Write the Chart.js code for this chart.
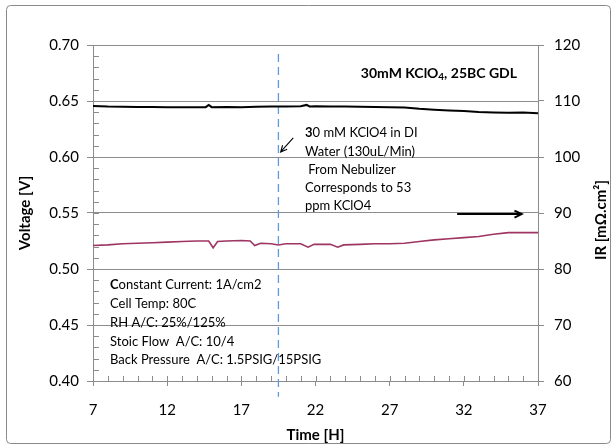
<!DOCTYPE html>
<html>
<head>
<meta charset="utf-8">
<script src="https://cdn.jsdelivr.net/npm/chart.js@4.4.0/dist/chart.umd.min.js"></script>
<style>
  html, body { margin: 0; padding: 0; background: #fff; }
</style>
</head>
<body>
<canvas id="chart" width="615" height="448"></canvas>
<script>
// voltage trace (left axis)
const voltTime = [7, 8, 9, 10, 11, 12, 13, 14, 14.6, 14.8, 15.0, 16, 17, 18, 19, 20, 21, 21.4, 21.6, 22, 23, 24, 25, 26, 27, 28, 29, 30, 31, 32, 33, 34, 35, 36, 37];
const voltage  = [0.6455, 0.645, 0.6448, 0.6447, 0.6446, 0.6445, 0.6445, 0.6445, 0.6445, 0.6465, 0.6445, 0.6447, 0.6445, 0.6448, 0.645, 0.6452, 0.6453, 0.6465, 0.6452, 0.6453, 0.645, 0.645, 0.6448, 0.6447, 0.6445, 0.6443, 0.643, 0.6422, 0.6415, 0.641, 0.6402, 0.6398, 0.6395, 0.6398, 0.639];

// IR trace (right axis)
const irTime = [7, 8, 9, 10, 11, 12, 13, 14, 14.8, 15.1, 15.4, 16, 17, 17.6, 17.9, 18.3, 19, 19.5, 20, 21, 21.5, 21.9, 23, 23.5, 23.9, 25, 26, 27, 28, 29, 30, 31, 32, 33, 34, 35, 36, 37];
const irValues = [84.2, 84.3, 84.5, 84.6, 84.7, 84.8, 84.9, 85.0, 85.0, 83.8, 84.9, 85.0, 85.1, 85.0, 84.2, 84.6, 84.5, 84.3, 84.5, 84.5, 83.9, 84.4, 84.4, 83.9, 84.3, 84.4, 84.5, 84.5, 84.6, 84.9, 85.2, 85.4, 85.6, 85.8, 86.2, 86.5, 86.5, 86.5];

// marker for start of KClO4 injection
const injectTime = 19.5;
const xTicks = [7, 12, 17, 22, 27, 32, 37];

const gray = '#8c8c8c';
const FONT = 'Lato';

const extras = {
    id: 'extras',
    beforeDraw(chart) {
        const ctx = chart.ctx;
        ctx.save();
        ctx.fillStyle = '#fff';
        ctx.fillRect(0, 0, chart.width, chart.height);
        ctx.strokeStyle = '#8a8a8a';
        ctx.lineWidth = 1;
        ctx.beginPath();
        ctx.roundRect(6.5, 5.5, 604, 438, 4);
        ctx.stroke();
        ctx.restore();
    },
    afterDraw(chart) {
        const { ctx, chartArea: a, scales } = chart;
        ctx.save();
        // minor / inner tick marks
        ctx.strokeStyle = gray;
        ctx.lineWidth = 1;
        ctx.beginPath();
        for (let i = 40; i <= 70; i++) {
            const y = Math.round(scales.y.getPixelForValue(i / 100)) + 0.5;
            ctx.moveTo(a.left, y);
            ctx.lineTo(a.left + 6, y);
        }
        for (let t = 7; t <= 37; t++) {
            const x = Math.round(scales.x.getPixelForValue(t)) + 0.5;
            ctx.moveTo(x, a.bottom);
            ctx.lineTo(x, a.bottom - 5);
        }
        ctx.stroke();

        // arrows
        const arrow = (x1, y1, x2, y2, head) => {
            ctx.strokeStyle = '#000';
            ctx.beginPath();
            ctx.moveTo(x1, y1);
            ctx.lineTo(x2, y2);
            const ang = Math.atan2(y2 - y1, x2 - x1);
            ctx.moveTo(x2 - head * Math.cos(ang - 0.45), y2 - head * Math.sin(ang - 0.45));
            ctx.lineTo(x2, y2);
            ctx.lineTo(x2 - head * Math.cos(ang + 0.45), y2 - head * Math.sin(ang + 0.45));
            ctx.stroke();
        };
        ctx.lineWidth = 1.1;
        arrow(scales.x.getPixelForValue(20.5), scales.y.getPixelForValue(0.617),
              scales.x.getPixelForValue(19.65), scales.y.getPixelForValue(0.6045), 7);
        ctx.lineWidth = 2;
        arrow(scales.x.getPixelForValue(31.55), scales.y1.getPixelForValue(89.8),
              scales.x.getPixelForValue(35.9), scales.y1.getPixelForValue(89.8), 8);

        // text with leading bold letter
        const boldLead = (lead, rest, x, y) => {
            ctx.font = `bold 13px ${FONT}`;
            ctx.fillText(lead, x, y);
            const w = ctx.measureText(lead).width;
            ctx.font = `13px ${FONT}`;
            ctx.fillText(rest, x + w, y);
        };
        ctx.fillStyle = '#000';
        ctx.textBaseline = 'middle';
        ctx.textAlign = 'left';
        boldLead('3', '0 mM KClO4 in DI', 305, 133);
        ctx.font = `13px ${FONT}`;
        ctx.fillText('Water (130uL/Min)', 305, 152);
        ctx.fillText(' From Nebulizer', 305, 170);
        ctx.fillText('Corresponds to 53', 305, 188);
        ctx.fillText('ppm KClO4', 305, 206);

        boldLead('C', 'onstant Current: 1A/cm2', 110, 285);
        ctx.font = `13px ${FONT}`;
        ctx.fillText('Cell Temp: 80C', 110, 304);
        ctx.fillText('RH A/C: 25%/125%', 110, 323);
        ctx.fillText('Stoic Flow  A/C: 10/4', 110, 342);
        ctx.fillText('Back Pressure  A/C: 1.5PSIG/15PSIG', 110, 360);

        // label in top right corner
        ctx.font = `bold 14px ${FONT}`;
        const p1 = '30mM KClO', p3 = ', 25BC GDL';
        const w1 = ctx.measureText(p1).width, w3 = ctx.measureText(p3).width;
        ctx.font = `bold 10px ${FONT}`;
        const w2 = ctx.measureText('4').width;
        let x = 517 - (w1 + w2 + w3);
        ctx.font = `bold 14px ${FONT}`;
        ctx.fillText(p1, x, 73);
        ctx.font = `bold 10px ${FONT}`;
        ctx.fillText('4', x + w1, 77);
        ctx.font = `bold 14px ${FONT}`;
        ctx.fillText(p3, x + w1 + w2, 73);

        // right axis title, reading bottom to top
        ctx.translate(601, 220);
        ctx.rotate(-Math.PI / 2);
        ctx.textAlign = 'center';
        ctx.font = `bold 15px ${FONT}`;
        ctx.fillText('IR [mΩ.cm²]', 0, 0);
        ctx.restore();
    }
};

new Chart(document.getElementById('chart'), {
    type: 'line',
    data: {
        datasets: [
            {
                label: 'Voltage',
                data: voltTime.map((t, i) => ({ x: t, y: voltage[i] })),
                borderColor: '#000',
                borderWidth: 2,
                pointRadius: 0,
                yAxisID: 'y'
            },
            {
                label: 'IR',
                data: irTime.map((t, i) => ({ x: t, y: irValues[i] })),
                borderColor: '#9e3462',
                borderWidth: 1.6,
                pointRadius: 0,
                yAxisID: 'y1'
            },
            {
                label: 'Injection',
                data: [{ x: injectTime, y: 0.692 }, { x: injectTime, y: 0.386 }],
                borderColor: '#5d9ae0',
                borderWidth: 1.3,
                borderDash: [8, 5],
                pointRadius: 0,
                clip: false,
                yAxisID: 'y'
            }
        ]
    },
    options: {
        responsive: false,
        animation: false,
        devicePixelRatio: 1,
        layout: { padding: { top: 45, left: 0, right: 0, bottom: 0 } },
        plugins: {
            legend: { display: false },
            tooltip: { enabled: false }
        },
        font: { family: FONT },
        scales: {
            x: {
                type: 'linear',
                min: 7,
                max: 37,
                afterBuildTicks: s => { s.ticks = xTicks.map(v => ({ value: v })); },
                afterFit: s => { s.height = 67; },
                grid: { drawOnChartArea: false, color: gray, tickLength: 5 },
                border: { color: gray },
                ticks: { color: '#000', padding: 15, maxRotation: 0, font: { family: FONT, size: 15 } },
                title: {
                    display: true,
                    text: 'Time [H]',
                    color: '#000',
                    font: { family: FONT, size: 15, weight: 'bold' },
                    padding: { top: 0, bottom: 4 }
                }
            },
            y: {
                type: 'linear',
                position: 'left',
                min: 0.40,
                max: 0.70,
                afterFit: s => { s.width = 93; },
                grid: { color: gray, tickLength: 6 },
                border: { color: gray },
                ticks: {
                    stepSize: 0.05,
                    color: '#000',
                    padding: 8,
                    font: { family: FONT, size: 15 },
                    callback: v => v.toFixed(2)
                },
                title: {
                    display: true,
                    text: 'Voltage [V]',
                    color: '#000',
                    font: { family: FONT, size: 15, weight: 'bold' },
                    padding: { top: 16, bottom: 0 }
                }
            },
            y1: {
                type: 'linear',
                position: 'right',
                min: 60,
                max: 120,
                afterFit: s => { s.width = 77; },
                grid: { drawOnChartArea: false, color: gray, tickLength: 6 },
                border: { color: gray },
                ticks: { stepSize: 10, color: '#000', padding: 10, font: { family: FONT, size: 15 } }
            }
        }
    },
    plugins: [extras]
});
</script>
</body>
</html>
